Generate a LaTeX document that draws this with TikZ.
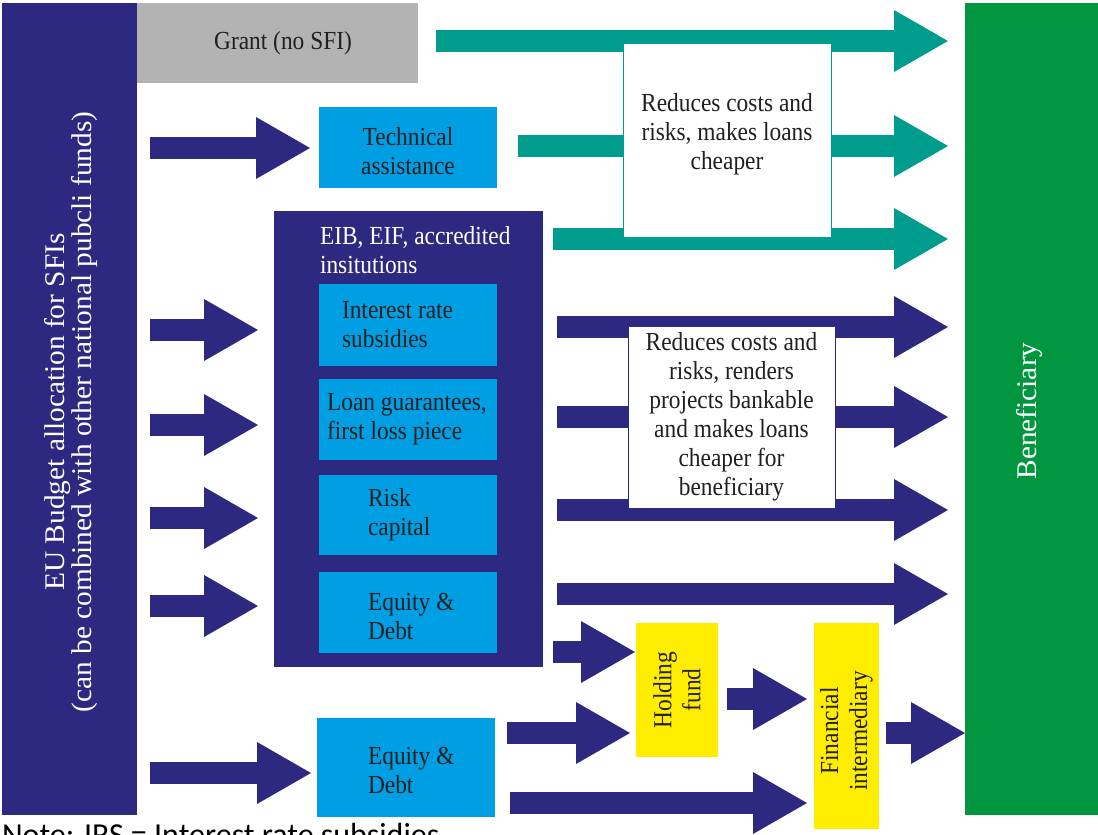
\documentclass[tikz,border=0pt]{standalone}
\usepackage{fontspec}
\setmainfont[FakeStretch=0.9]{Liberation Serif}
\newfontfamily\widefont[FakeStretch=1.03]{Liberation Serif}
\newfontfamily\notefont{Carlito}
\usetikzlibrary{arrows.meta}
\pgfdeclarelayer{bg}
\pgfsetlayers{bg,main}
\definecolor{dblue}{RGB}{46,41,128}
\definecolor{lblue}{RGB}{0,159,227}
\definecolor{teal1}{RGB}{0,156,141}
\definecolor{green1}{RGB}{0,150,64}
\definecolor{gray1}{RGB}{179,179,179}
\definecolor{yellow1}{RGB}{255,237,0}
\definecolor{tdark}{RGB}{35,31,32}
\begin{document}
\begin{tikzpicture}[x=1pt,y=-1pt,
  every node/.style={inner sep=0pt,outer sep=0pt},
  box/.style={anchor=north west,draw=none},
  txt/.style={font=\fontsize{26}{29}\selectfont,text=tdark,align=center},
  wtxt/.style={font=\fontsize{26}{29}\selectfont,text=white,align=center},
  rtxt/.style={font=\widefont\fontsize{28.5}{27}\selectfont,text=white,align=center,rotate=90},
  arr/.style={line width=22pt,-{Triangle[length=54pt,width=62pt,line width=0pt]}},
  darr/.style={arr,draw=dblue},
  tarr/.style={arr,draw=teal1}]
\useasboundingbox (0,0) rectangle (1098,835);
% main boxes
\node[box,fill=dblue,minimum width=135,minimum height=812] (eu) at (2,3) {};
\node[rtxt] (eutxt) at (71,412) {EU Budget allocation for SFIs\\(can be combined with other national pubcli funds)};
\node[box,fill=gray1,minimum width=281,minimum height=80] (grant) at (137,3) {};
\node[txt] (granttxt) at (283,43) {Grant (no SFI)};
\node[box,fill=lblue,minimum width=178,minimum height=81] (ta) at (319,107) {};
\node[txt] (tatxt) at (408,151) {Technical\\assistance};
\node[box,fill=dblue,minimum width=269,minimum height=456] (eib) at (274,211) {};
\node[wtxt,align=left,anchor=north west] (eibtxt) at (320,226) {EIB, EIF, accredited\\insitutions};
\node[box,fill=lblue,minimum width=178,minimum height=82] (irs) at (319,284) {};
\node[txt,align=left,anchor=west] (irstxt) at ([xshift=23pt]irs.west) {Interest rate\\subsidies};
\node[box,fill=lblue,minimum width=178,minimum height=81] (loan) at (319,379) {};
\node[txt,align=left,anchor=west] (loantxt) at ([xshift=8pt]loan.west) {Loan guarantees,\\first loss piece};
\node[box,fill=lblue,minimum width=178,minimum height=80] (risk) at (319,475) {};
\node[txt,align=left,anchor=west] (risktxt) at ([xshift=49pt]risk.west) {Risk\\capital};
\node[box,fill=lblue,minimum width=178,minimum height=81] (eqd1) at (319,572) {};
\node[txt,align=left,anchor=west] (eqd1txt) at ([xshift=49pt,yshift=-4pt]eqd1.west) {Equity \&\\Debt};
\node[box,fill=lblue,minimum width=178,minimum height=99] (eqd2) at (317,718) {};
\node[txt,align=left,anchor=west] (eqd2txt) at ([xshift=51pt,yshift=-3pt]eqd2.west) {Equity \&\\Debt};
\node[box,fill=green1,minimum width=133,minimum height=812] (ben) at (965,3) {};
\node[rtxt] (bentxt) at (1030,411) {Beneficiary};
\node[box,fill=yellow1,minimum width=82,minimum height=134] (hold) at (636,623) {};
\node[txt,rotate=90] (holdtxt) at (677,690) {Holding\\fund};
\node[box,fill=yellow1,minimum width=65,minimum height=206] (fi) at (814,623) {};
\node[txt,rotate=90] (fitxt) at (846.5,731) {Financial\\intermediary};
% white boxes
\node[box,fill=white,draw=teal1,line width=1pt,minimum width=208,minimum height=194] (red1) at (623,43) {};
\node[txt] (red1txt) at (727,134) {Reduces costs and\\risks, makes loans\\cheaper};
\node[box,fill=white,draw=dblue,line width=1pt,minimum width=207,minimum height=182] (red2) at (628,326) {};
\node[txt] (red2txt) at (731.5,417) {Reduces costs and\\risks, renders\\projects bankable\\and makes loans\\cheaper for\\beneficiary};
% note
\node[anchor=base west,font=\notefont\fontsize{32}{38}\selectfont,text=black] (note) at (2,845) {Note: IRS = Interest rate subsidies};
% arrows
\begin{pgfonlayer}{bg}
\draw[tarr,shorten <=18pt,shorten >=17pt] (grant.east |- 0,41) -- (ben.west |- 0,41);
\draw[tarr,shorten <=21pt,shorten >=17pt] (ta.east |- 0,146) -- (ben.west |- 0,146);
\draw[tarr,shorten <=10pt,shorten >=17pt] (eib.east |- 0,239) -- (ben.west |- 0,239);
\draw[darr,shorten <=13pt,shorten >=9pt] (eu.east |- 0,148) -- (ta.west |- 0,148);
\foreach \yy in {330,425,518,606}
  \draw[darr,shorten <=13pt,shorten >=16pt] (eu.east |- 0,\yy) -- (eib.west |- 0,\yy);
\foreach \yy in {327,417,510,594}
  \draw[darr,shorten <=14pt,shorten >=17pt] (eib.east |- 0,\yy) -- (ben.west |- 0,\yy);
\draw[darr,shorten <=13pt,shorten >=6pt] (eu.east |- 0,773) -- (eqd2.west |- 0,773);
\draw[darr,shorten <=10pt,shorten >=1pt] (eib.east |- 0,652) -- (hold.west |- 0,652);
\draw[darr,shorten <=12pt,shorten >=6pt] (eqd2.east |- 0,733) -- (hold.west |- 0,733);
\draw[darr,shorten <=9pt,shorten >=7pt] (hold.east |- 0,699) -- (fi.west |- 0,699);
\draw[darr,shorten <=15pt,shorten >=7pt] (eqd2.east |- 0,803) -- (fi.west |- 0,803);
\draw[darr,shorten <=7pt,shorten >=0pt] (fi.east |- 0,733) -- (ben.west |- 0,733);
\end{pgfonlayer}
\end{tikzpicture}
\end{document}
